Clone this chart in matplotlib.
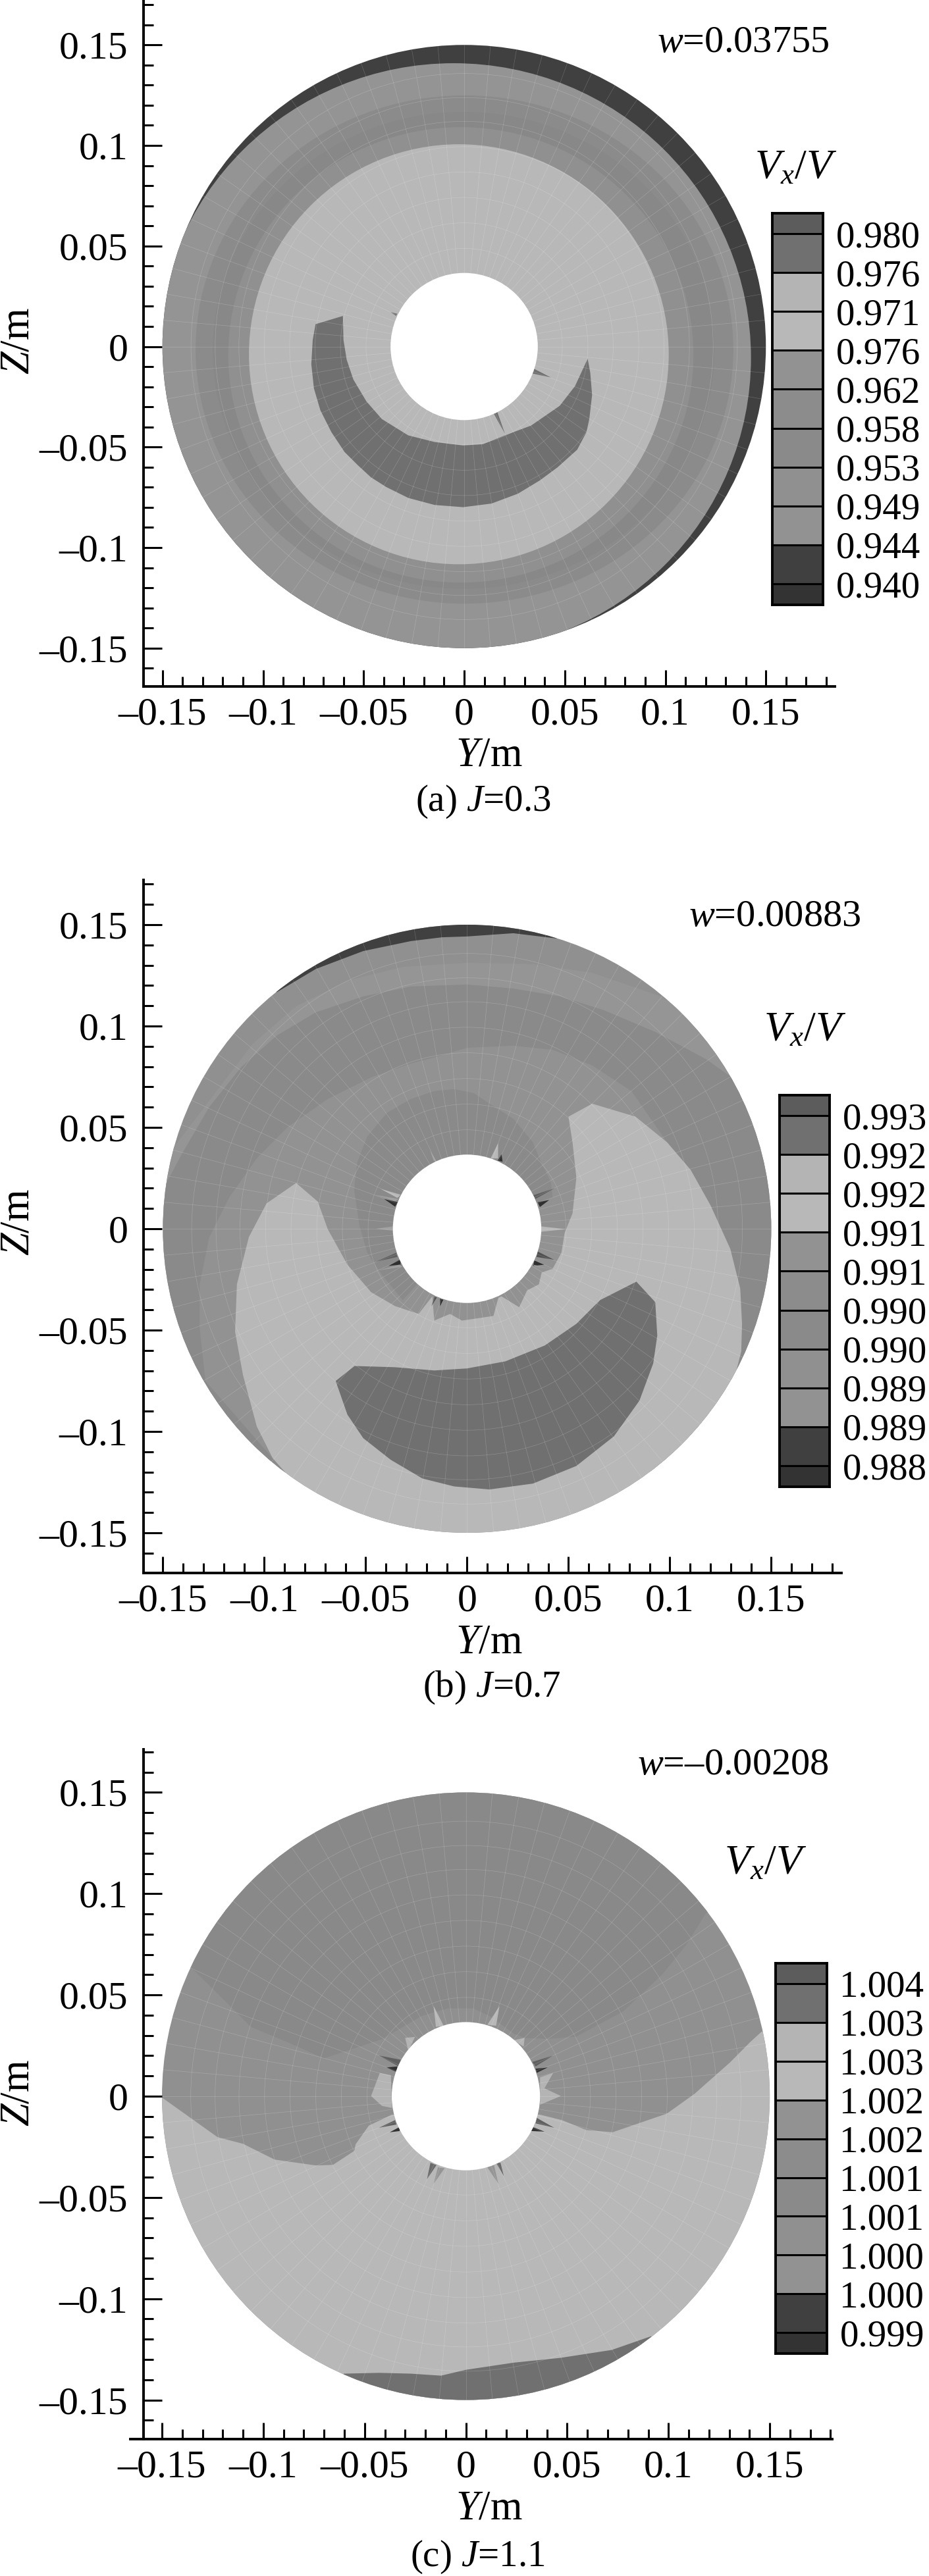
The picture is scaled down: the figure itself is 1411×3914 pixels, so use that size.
import matplotlib
matplotlib.use("Agg")
import numpy as np
import matplotlib.pyplot as plt
from matplotlib.patches import Circle, Ellipse
from matplotlib.lines import Line2D

plt.rcParams['font.family'] = ['Liberation Serif', 'DejaVu Sans']
plt.rcParams['mathtext.fontset'] = 'custom'
plt.rcParams['mathtext.rm'] = 'Liberation Serif'
plt.rcParams['mathtext.it'] = 'Liberation Serif:italic'
plt.rcParams['mathtext.default'] = 'regular'

W, H = 1411, 3914
FS = 41
FS_TICK = 43
FS_AXIS = 45
FS_W = 42
FS_V = 46

# ---------- ticks ----------
x_major = [-0.15, -0.1, -0.05, 0, 0.05, 0.1, 0.15]
x_major_labels = ['–0.15', '–0.1', '–0.05', '0', '0.05', '0.1', '0.15']
x_minor = [-0.14, -0.13, -0.12, -0.11, -0.09, -0.08, -0.07, -0.06, -0.04, -0.03, -0.02, -0.01,
           0.01, 0.02, 0.03, 0.04, 0.06, 0.07, 0.08, 0.09, 0.11, 0.12, 0.13, 0.14, 0.16, 0.17, 0.18]
z_minor = [-0.16, -0.14, -0.13, -0.12, -0.11, -0.09, -0.08, -0.07, -0.06, -0.04, -0.03, -0.02, -0.01,
           0.01, 0.02, 0.03, 0.04, 0.06, 0.07, 0.08, 0.09, 0.11, 0.12, 0.13, 0.14, 0.16, 0.17]

# ---------- mesh overlay ----------
mesh_radii = [0.0488, 0.0615, 0.0741, 0.0868, 0.0994, 0.112, 0.1238, 0.1358]
mesh_angles_deg = [a * 5 for a in range(72)]
disc_radius = 0.15
hub_radius = 0.0366

# ---------- colour bar ----------
cbar_grays = ['#333333', '#404040', '#929292', '#909090', '#8a8a8a', '#8c8c8c', '#929292',
              '#b8b8b8', '#b4b4b4', '#707070', '#5c5c5c']
levels_a = ['0.980', '0.976', '0.971', '0.976', '0.962', '0.958', '0.953', '0.949', '0.944', '0.940'][::-1]
levels_b = ['0.993', '0.992', '0.992', '0.991', '0.991', '0.990', '0.990', '0.989', '0.989', '0.988'][::-1]
levels_c = ['1.004', '1.003', '1.003', '1.002', '1.002', '1.001', '1.001', '1.000', '1.000', '0.999'][::-1]

# ---------- panel (a): contour bands (left, right, bottom, top, gray) ----------
a_bands = [
    (-0.153, 0.1426, -0.152, 0.1409, '#949494'),
    (-0.1335, 0.1338, -0.1279, 0.1249, '#8b8b8b'),
    (-0.1250, 0.1244, -0.1205, 0.1167, '#888888'),
    (-0.1173, 0.1140, -0.1174, 0.1091, '#909090'),
    (-0.1070, 0.1017, -0.1083, 0.1006, '#b8b8b8'),
]
a_crescent = [(-.0739, .0111), (-.0603, .0152), (-.0600, .0032), (-.0584, -.0066), (-.0551, -.0164),
              (-.0486, -.0273), (-.0409, -.0361), (-.0278, -.0442), (-.0147, -.0475), (-.0005, -.0492),
              (.0093, -.0486), (.0202, -.0442), (.0333, -.0393), (.0475, -.0295), (.0551, -.0197),
              (.0614, -.0061), (.0627, -.0131), (.0636, -.0241), (.0622, -.0361), (.0608, -.0426),
              (.0562, -.0513), (.0464, -.0601), (.0376, -.0666), (.0267, -.0732), (.0136, -.0781),
              (-.0005, -.0799), (-.0147, -.0788), (-.0278, -.0753), (-.0387, -.0699), (-.0464, -.0650),
              (-.0529, -.0590), (-.0595, -.0524), (-.0660, -.0426), (-.0715, -.0317), (-.0747, -.0208),
              (-.0760, -.0088), (-.0753, .0032)]
a_spikes = [([(.0164, -.0323), (.0204, -.0437), (.0147, -.0333)], '#707070'),
            ([(.0346, -.0110), (.0431, -.0154), (.0338, -.0134)], '#707070'),
            ([(-.0366, .0171), (-.0333, .0163), (-.0338, .0152)], '#707070')]

# ---------- panel (b): contour regions ----------
b_cap = [(-.0940, .1166), (-.0745, .1282), (-.0512, .1370), (-.0278, .1419), (-.0123, .1438), (0, .1442),
         (.0228, .1458), (.0442, .1432), (.0442, .16), (-.0940, .16)]
b_band1 = [(.0957, .1146), (.0617, .1263), (.0325, .1306), (0, .1312), (-.0317, .1292), (-.0590, .1224),
           (-.0843, .1098), (-.1057, .0913), (-.16, .02), (.16, .07)]
b_band2 = [(-.1500, .0193), (-.1407, .0368), (-.1271, .0601), (-.1115, .0796), (-.0940, .0952), (-.0745, .1068),
           (-.0512, .1146), (-.0278, .1195), (0, .1205), (.0228, .1185), (.0461, .1146), (.0675, .1078),
           (.0928, .0971), (.1181, .0835), (.1317, .0738), (.16, .07), (.16, -.12), (-.16, -.12), (-.16, .0193)]
b_band3 = [(-.1290, -.0751), (-.1319, -.0488), (-.1319, -.0274), (-.1271, -.0041), (-.1173, .0154), (-.1037, .0348),
           (-.0882, .0504), (-.0687, .0640), (-.0473, .0747), (-.0278, .0815), (-.0162, .0845), (0, .0893),
           (.0228, .0903), (.0422, .0883), (.0617, .0806), (.0811, .0679), (.0987, .0426), (.05, -.10), (-.09, -.12)]
b_hub_lobe = [(-.0064, .0689), (-.0162, .0679), (-.0278, .0640), (-.0395, .0572), (-.0492, .0455), (-.0541, .0329),
              (-.0557, .0193), (-.0531, .0018), (-.0492, -.0119), (-.0414, -.0235), (-.0317, -.0352), (0, 0),
              (.0422, .0154), (.0413, .0232), (.0364, .0329), (.0325, .0426), (.0228, .0543), (.0111, .0617),
              (.0033, .0669)]
b_light = [(.0500, .0553), (.0617, .0617), (.0831, .0553), (.0987, .0426), (.1103, .0290), (.1201, .0115),
           (.1298, -.0099), (.1347, -.0294), (.1356, -.0469), (.1352, -.0605), (.1327, -.0703),
           (.16, -.08), (.16, -.17), (-.0882, -.17), (-.0882, -.1218), (-.0959, -.1131), (-.1037, -.0975),
           (-.1105, -.0722), (-.1144, -.0508), (-.1135, -.0274), (-.1076, -.0041), (-.0989, .0125), (-.0843, .0226),
           (-.0736, .0134), (-.0687, -.0002), (-.0590, -.0177), (-.0473, -.0313), (-.0356, -.0381), (-.0239, -.0420),
           (-.0171, -.0333), (-.0162, -.0453), (-.0084, -.0420), (-.0025, -.0453), (.0130, -.0430), (.0154, -.0342),
           (.0169, -.0333), (.0257, -.0387), (.0296, -.0304), (.0354, -.0274), (.0368, -.0216), (.0422, -.0197),
           (.0465, -.0119), (.0481, -.0021), (.0520, .0076), (.0539, .0251), (.0520, .0426)]
b_crescent = [(-.0648, -.0751), (-.0555, -.0677), (-.0356, -.0683), (-.0162, -.0699), (0, -.0689), (.0189, -.0654),
              (.0383, -.0576), (.0539, -.0469), (.0656, -.0352), (.0835, -.0261), (.0928, -.0362), (.0938, -.0527),
              (.0918, -.0664), (.0850, -.0848), (.0724, -.1024), (.0539, -.1170), (.0325, -.1257), (.0111, -.1286),
              (-.0064, -.1271), (-.0220, -.1232), (-.0376, -.1140), (-.0512, -.1033), (-.0590, -.0917)]
b_spikes = [([(-.0409, .0147), (-.0342, .0131), (-.0355, .0109)], '#303030'),
            ([(.0405, .0142), (.0348, .0131), (.0359, .0107)], '#303030'),
            ([(-.0387, -.0183), (-.0328, -.0150), (-.0328, -.0177)], '#303030'),
            ([(.0381, -.0177), (.0332, -.0156), (.0326, -.0183)], '#303030'),
            ([(.0429, -.0153), (.0348, -.0112), (.0343, -.0139)], '#505050'),
            ([(.0175, .0331), (.0151, .0336), (.0170, .0368)], '#303030'),
            ([(-.0133, -.0345), (-.0117, -.0350), (-.0133, -.0382)], '#303030'),
            ([(-.0160, -.0334), (-.0149, -.0339), (-.0176, -.0382)], '#505050'),
            ([(.0326, .0165), (.0434, .0201), (.0337, .0147)], '#606060'),
            ([(-.0451, -.0163), (-.0349, -.0118), (-.0344, -.0139)], '#606060'),
            ([(-.0425, .0196), (-.0327, .0168), (-.0344, .0152)], '#b8b8b8'),
            ([(-.0457, .0168), (-.0338, .0147), (-.0354, .0136)], '#a0a0a0'),
            ([(.0153, .0422), (.0116, .0347), (.0153, .0347)], '#b8b8b8'),
            ([(.0488, -.0002), (.0364, .0012), (.0364, -.0015)], '#b8b8b8'),
            ([(-.0451, 0), (-.0365, .0012), (-.0365, -.0010)], '#a0a0a0'),
            ([(-.0182, .0385), (-.0149, .0330), (-.0165, .0336)], '#a0a0a0'),
            ([(.0434, -.0202), (.0337, -.0188), (.0326, -.0177)], '#9a9a9a'),
            ([(-.0441, -.0206), (-.0333, -.0177), (-.0322, -.0188)], '#a0a0a0')]

# ---------- panel (c): contour regions ----------
c_top = [(-.1352, .0631), (-.1168, .0450), (-.1061, .0342), (-.0876, .0265), (-.0701, .0187), (-.0525, .0245),
         (-.0409, .0284), (-.0338, .0326), (-.0219, .0396), (-.0089, .0434), (.0036, .0434), (.0117, .0396),
         (.0236, .0310), (.0290, .0288), (.0404, .0283), (.0545, .0294), (.0778, .0420), (.0973, .0605),
         (.1090, .0751), (.1187, .0907), (.17, .09), (.17, .17), (-.17, .17), (-.17, .0631)]
c_light = [(-.1498, -.0008), (-.1362, -.0105), (-.1226, -.0202), (-.1100, -.0235), (-.0944, -.0313), (-.0739, -.0342),
           (-.0656, -.0339), (-.0551, -.0270), (-.0544, -.0237), (-.0479, -.0145), (-.0365, -.0091), (0, -.01),
           (.0366, -.0091), (.0474, -.0118), (.0594, -.0167), (.0724, -.0178), (.0992, -.0086), (.1129, .0012),
           (.1304, .0167), (.1401, .0265), (.1460, .0319), (.17, .03), (.17, -.17), (-.17, -.17), (-.17, -.0008)]
c_bottom = [(-.0603, -.1370), (-.0428, -.1366), (-.0272, -.1370), (-.0123, -.1380), (0, -.1351), (.0234, -.1316),
            (.0467, -.1292), (.0720, -.1253), (.0915, -.1185), (.0915, -.17), (-.0603, -.17)]
c_spikes = [([(-.0468, .0001), (-.0425, .0115), (-.0370, .0104), (-.0365, -.0058), (-.0414, -.0048)], '#b4b4b4'),
            ([(.0366, .0093), (.0431, .0115), (.0388, .0039), (.0469, .0001), (.0366, -.0042)], '#b4b4b4'),
            ([(-.0300, .0288), (-.0251, .0293), (-.0284, .0223)], '#b4b4b4'),
            ([(.0236, .0277), (.0290, .0288), (.0285, .0245)], '#b4b4b4'),
            ([(-.0430, -.0156), (-.0349, -.0118), (-.0343, -.0140)], '#606060'),
            ([(-.0376, -.0178), (-.0327, -.0151), (-.0327, -.0172)], '#333333'),
            ([(-.0392, .0142), (-.0338, .0147), (-.0343, .0120)], '#333333'),
            ([(-.0430, .0201), (-.0322, .0180), (-.0332, .0147)], '#606060'),
            ([(.0431, .0201), (.0328, .0169), (.0344, .0147)], '#606060'),
            ([(.0404, .0142), (.0344, .0136), (.0350, .0115)], '#333333'),
            ([(.0436, -.0156), (.0350, -.0107), (.0344, -.0134)], '#606060'),
            ([(.0388, -.0175), (.0328, -.0151), (.0323, -.0172)], '#333333'),
            ([(-.0192, -.0410), (-.0175, -.0329), (-.0145, -.0340)], '#6a6a6a'),
            ([(-.0159, -.0432), (-.0138, -.0351), (-.0105, -.0356)], '#959595'),
            ([(.0160, -.0432), (.0106, -.0351), (.0139, -.0340)], '#959595'),
            ([(.0187, -.0394), (.0149, -.0329), (.0171, -.0329)], '#6a6a6a'),
            ([(-.0159, .0445), (-.0110, .0348), (-.0148, .0342)], '#b8b8b8'),
            ([(.0166, .0445), (.0106, .0353), (.0149, .0348)], '#b8b8b8')]

fig = plt.figure(figsize=(W / 100, H / 100), dpi=100, facecolor='white')


def px_axes(left, top, right, bottom):
    return fig.add_axes([left / W, 1 - bottom / H, (right - left) / W, (bottom - top) / H])


def fill(ax, pts, color, disc, z=3):
    xs, zs = zip(*pts)
    p = ax.fill(xs, zs, color=color, lw=0, zorder=z)[0]
    p.set_clip_path(disc)


def panel(box, centre, scale, base, wtext, wpos, vpos, ylabel_y, caption, cap_pos):
    left, top, right, bottom = box
    ax = px_axes(*box)
    ax.patch.set_visible(False)
    disc = Circle((0, 0), disc_radius, fc=base, ec='none', zorder=1)
    ax.add_patch(disc)
    ax.set_xlim((left - centre[0]) / scale, (right - centre[0]) / scale)
    ax.set_ylim((centre[1] - bottom) / scale, (centre[1] - top) / scale)
    ax.set_aspect('auto')
    for s in ('top', 'right'):
        ax.spines[s].set_visible(False)
    for s in ('left', 'bottom'):
        ax.spines[s].set_linewidth(2.8)
    ax.set_xticks(x_major, x_major_labels, fontsize=FS_TICK)
    ax.set_yticks(x_major, x_major_labels, fontsize=FS_TICK)
    ax.set_xticks(x_minor, minor=True)
    ax.set_yticks(z_minor, minor=True)
    ax.tick_params(axis='x', which='major', direction='in', length=18, width=2.2, pad=12)
    ax.tick_params(axis='y', which='major', direction='in', length=20, width=2.2, pad=17)
    ax.tick_params(axis='both', which='minor', direction='in', length=11, width=2.2)
    ax.set_xlabel('$\\mathit{Y}$/m', fontsize=FS_AXIS, va='baseline', ha='center')
    ax.xaxis.set_label_coords(743 / W, 1 - (bottom + 121) / H, transform=fig.transFigure)
    ax.set_ylabel('$\\mathit{Z}$/m', fontsize=FS_AXIS, va='center', ha='center', rotation=90)
    ax.yaxis.set_label_coords(29 / W, 1 - ylabel_y / H, transform=fig.transFigure)
    fig.text(wpos[0] / W, 1 - wpos[1] / H, wtext, fontsize=FS_W, ha='right', va='center')
    fig.text(vpos[0] / W, 1 - vpos[1] / H, '$\\mathit{V}_{\\mathit{x}}/\\mathit{V}$', fontsize=FS_V,
             ha='left', va='baseline')
    fig.text(cap_pos[0] / W, 1 - cap_pos[1] / H, caption, fontsize=FS, ha='center', va='baseline')
    return ax, disc


def finish(ax, disc):
    for r in mesh_radii:
        c = Circle((0, 0), r, fc='none', ec='white', lw=0.5, alpha=0.2, zorder=8)
        ax.add_patch(c)
        c.set_clip_path(disc)
    for a in mesh_angles_deg:
        t = np.deg2rad(a)
        ax.plot([hub_radius * np.cos(t), disc_radius * np.cos(t)],
                [hub_radius * np.sin(t), disc_radius * np.sin(t)],
                color='white', lw=0.5, alpha=0.2, zorder=8, scalex=False, scaley=False)
    ax.add_patch(Circle((0, 0), hub_radius, fc='white', ec='none', zorder=9))


def colorbar(box, labels):
    cax = px_axes(*box)
    edges = [-0.54, 0, 1, 2, 3, 4, 5, 6, 7, 8, 9, 9.525]
    cax.bar([0.5] * 11, np.diff(edges), bottom=edges[:-1], width=1, color=cbar_grays, lw=0)
    cax.set_xlim(0, 1)
    cax.set_ylim(edges[0], edges[-1])
    cax.hlines(list(range(10)), 0, 1, color='black', lw=2.2)
    cax.set_xticks([])
    cax.yaxis.tick_right()
    cax.set_yticks(list(range(10)), labels, fontsize=FS)
    cax.tick_params(axis='y', length=0, pad=14)
    for s in cax.spines.values():
        s.set_linewidth(2.8)


# ---------- (a) ----------
ax, disc = panel((218, 0, 1268, 1043), (705, 526.5), 3055, '#404040', '$\\mathit{w}$=0.03755', (1259, 65),
                 (1146, 271), 518, '(a) $\\mathit{J}$=0.3', (734, 1232))
for l, r, b, t, g in a_bands:
    e = Ellipse(((l + r) / 2, (b + t) / 2), r - l, t - b, fc=g, ec='none', zorder=2)
    ax.add_patch(e)
    e.set_clip_path(disc)
fill(ax, a_crescent, '#707070', disc)
for pts, g in a_spikes:
    fill(ax, pts, g, disc, 4)
finish(ax, disc)
colorbar((1173, 324, 1250, 919), levels_a)

# ---------- (b) ----------
ax, disc = panel((218, 1337, 1278, 2390), (709.4, 1867), 3080, '#909090', '$\\mathit{w}$=0.00883', (1307, 1393),
                 (1160, 1581), 1857, '(b) $\\mathit{J}$=0.7', (747, 2578))
fill(ax, b_cap, '#404040', disc)
fill(ax, b_band1, '#959595', disc)
fill(ax, b_band2, '#8a8a8a', disc)
fill(ax, b_band3, '#929292', disc)
fill(ax, b_hub_lobe, '#8a8a8a', disc)
fill(ax, b_light, '#b8b8b8', disc)
fill(ax, b_crescent, '#707070', disc)
for pts, g in b_spikes:
    fill(ax, pts, g, disc, 4)
finish(ax, disc)
colorbar((1184, 1664, 1260, 2259), levels_b)

# ---------- (c) ----------
ax, disc = panel((218, 2658, 1264, 3706), (707.6, 3185), 3077, '#909090', '$\\mathit{w}$=–0.00208', (1259, 2682),
                 (1100, 2847), 3180, '(c) $\\mathit{J}$=1.1', (725, 3899))
fill(ax, c_top, '#898989', disc)
fill(ax, c_light, '#b8b8b8', disc)
fill(ax, c_bottom, '#707070', disc)
for pts, g in c_spikes:
    fill(ax, pts, g, disc, 4)
finish(ax, disc)
colorbar((1178, 2983, 1256, 3576), levels_c)
fig.add_artist(Line2D([198 / W, 218 / W], [1 - 3706 / H] * 2, color='black', lw=2.8))

fig.savefig('out.png', dpi=100)
